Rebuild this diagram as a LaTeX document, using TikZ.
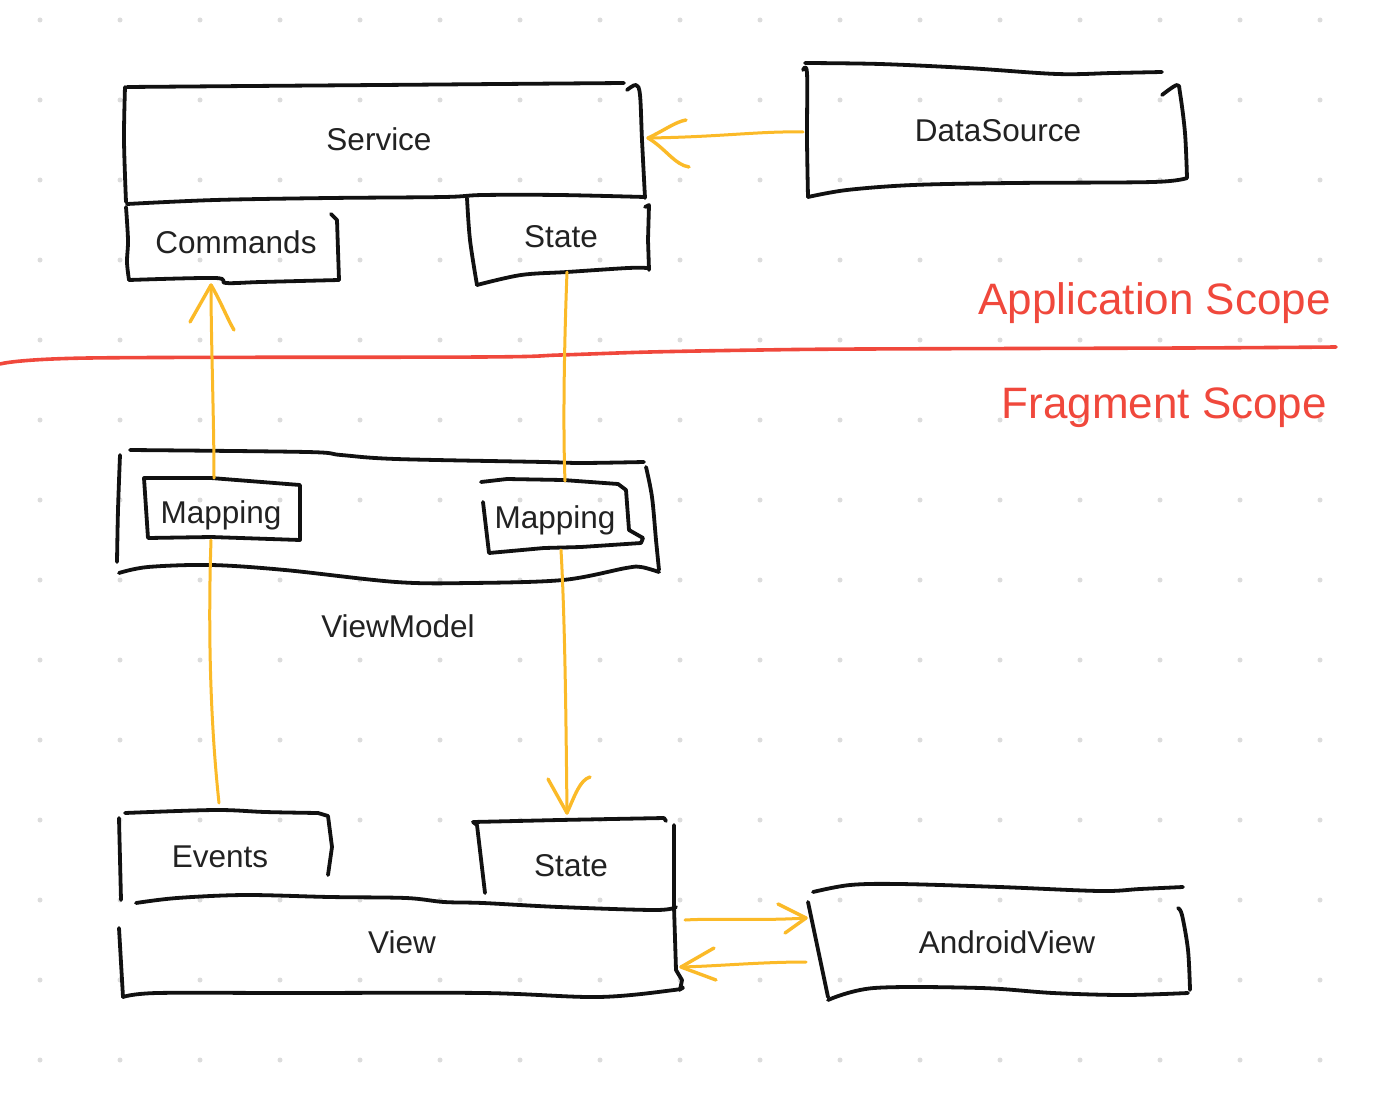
\documentclass[tikz,border=0pt]{standalone}
\usepackage{fontspec}
\setmainfont{Liberation Sans}
\definecolor{inkc}{HTML}{111111}
\definecolor{arrowc}{HTML}{FBBA28}
\definecolor{redc}{HTML}{F0483C}
\definecolor{dotc}{HTML}{DCDCDC}
\definecolor{textc}{HTML}{222222}
\tikzset{
 ink/.style={draw=inkc, line width=3.8pt, line cap=round, line join=round},
 flow/.style={draw=arrowc, line width=3pt, line cap=round, line join=round},
 barb/.style={draw=arrowc, line width=3.4pt, line cap=round, line join=round},
 redline/.style={draw=redc, line width=3.6pt, line cap=round},
 lbl/.style={font=\fontsize{31.5}{36}\selectfont, text=textc, inner sep=0pt, anchor=base},
 scopelbl/.style={font=\fontsize{44}{50}\selectfont, text=redc, inner sep=0pt, anchor=base east},
 sk/.style={smooth, tension=0.55}
}
\begin{document}
\begin{tikzpicture}[x=1pt,y=-1pt]
\fill[white] (0,0) rectangle (1396,1118);
\useasboundingbox (0,0) rectangle (1396,1118);
% dot grid
\foreach \i in {0,...,16} {
  \foreach \j in {0,...,13} {
    \fill[dotc] ({40+80*\i},{20+80*\j}) circle (2.5);
  }
}
% ---------- labels ----------
\node[lbl] (service) at (379,151) {Service};
\node[lbl] (commands) at (236,253) {Commands};
\node[lbl] (appstate) at (561,247) {State};
\node[lbl] (datasource) at (998,142) {DataSource};
\node[scopelbl] (appscope) at (1331,314) {Application Scope};
\node[scopelbl] (fragscope) at (1327,418) {Fragment Scope};
\node[lbl] (mapL) at (221,523) {Mapping};
\node[lbl] (mapR) at (555,528) {Mapping};
\node[lbl] (viewmodel) at (398,637) {ViewModel};
\node[lbl] (events) at (220,867) {Events};
\node[lbl] (viewstate) at (571,876) {State};
\node[lbl] (view) at (402,953) {View};
\node[lbl] (android) at (1007,953) {AndroidView};
% ---------- Service ----------
\draw[ink] plot[sk] coordinates {(127,87) (250,86) (380,85) (500,84) (624,83)};
\draw[ink] plot[sk] coordinates {(627,90) (636,85) (640,95) (642,140) (645,198)};
\draw[ink] plot[sk] coordinates {(125,87) (124,140) (126,202)};
\draw[ink] plot[sk] coordinates {(127,204) (215,200) (330,198) (444,197) (483,195) (559,195) (645,197)};
% Commands
\draw[ink] plot[sk] coordinates {(126,207) (128,240) (127,262) (129,280)};
\draw[ink] plot[sk] coordinates {(129,280) (215,278) (226,283) (261,282) (339,280)};
\draw[ink] (331,214) -- (337,220) -- (338,250) -- (339,280);
% State (application)
\draw[ink] plot[sk] coordinates {(467,198) (470,240) (477,285)};
\draw[ink] plot[sk] coordinates {(477,285) (521,275) (567,272) (628,268) (647,268)};
\draw[ink] (645,207) -- (649,205) -- (648,240) -- (649,270);
% DataSource
\draw[ink] plot[sk] coordinates {(805,63) (880,64) (967,68) (1057,74) (1113,73) (1162,72)};
\draw[ink] plot[sk] coordinates {(1162,95) (1177,85) (1180,93) (1185,133) (1187,178)};
\draw[ink] plot[sk] coordinates {(1187,178) (1153,182) (1013,183) (913,185) (847,190) (808,197)};
\draw[ink] plot[sk] coordinates {(803,70) (807,73) (807,140) (808,197)};
% scope separator
\draw[redline] plot[sk] coordinates {(0,364) (89,358) (480,357) (560,355) (650,352) (760,350) (864,349) (1184,348) (1336,347)};
% ViewModel
\draw[ink] plot[sk] coordinates {(130,450) (307,452) (341,455) (396,459) (544,462) (581,463) (644,462)};
\draw[ink] plot[sk] coordinates {(120,455) (118,510) (117,562)};
\draw[ink] plot[sk] coordinates {(646,467) (652,497) (656,540) (659,570)};
\draw[ink] plot[sk] coordinates {(119,573) (148,567) (211,565) (285,570) (396,582) (470,583) (563,580) (626,568) (641,567) (659,572)};
% Mapping left
\draw[ink] (144,478) -- (211,478) -- (300,485) -- (300,540) -- (211,537) -- (148,538) -- cycle;
% Mapping right
\draw[ink] (481,482) -- (507,479) -- (563,480) -- (618,484) -- (626,490) -- (629,530) -- (643,538) -- (641,543) -- (581,547) -- (544,548) -- (489,553) -- (483,502);
% Events
\draw[ink] (119,818) -- (121,900);
\draw[ink] plot[sk] coordinates {(125,813) (215,810) (265,812) (318,813)} -- (328,816) -- (332,847) -- (328,875);
% State (view)
\draw[ink] (485,893) -- (477,825) -- (473,822) -- (559,820) -- (664,818) -- (666,821);
\draw[ink] (674,825) -- (674,907) -- (676,970) -- (682,980) -- (680,990);
% View
\draw[ink] plot[sk] coordinates {(136,903) (177,898) (245,895) (330,897) (406,898) (444,902) (483,903) (559,907) (655,910) (676,907)};
\draw[ink] (119,928) -- (123,997);
\draw[ink] plot[sk] coordinates {(123,997) (157,993) (291,993) (483,993) (598,997) (674,990) (682,987)};
% AndroidView
\draw[ink] plot[sk] coordinates {(813,892) (850,885) (900,884) (1000,887) (1100,891) (1140,889) (1183,887)};
\draw[ink] (808,902) -- (828,997);
\draw[ink] plot[sk] coordinates {(828,1000) (874,988) (981,988) (1053,993) (1124,995) (1188,993)};
\draw[ink] plot[sk] coordinates {(1178,908) (1182,915) (1188,950) (1190,990)};
% ---------- connectors ----------
\coordinate (dsIn) at (803,132);
\coordinate (svIn) at (648,138);
\draw[flow] (dsIn) .. controls (760,131) and (720,137) .. (svIn);
\draw[barb] (svIn) .. controls (665,130) and (675,122) .. (686,120);
\draw[barb] (svIn) .. controls (665,148) and (675,165) .. (689,167);
% Events -> left Mapping -> Commands
\coordinate (evOut) at (219,803);
\coordinate (mapLbot) at (211,540);
\coordinate (mapLtop) at (214,478);
\coordinate (cmIn) at (211,285);
\draw[flow] (evOut) .. controls (208,700) and (209,600) .. (mapLbot);
\draw[flow] (mapLtop) .. controls (214,420) and (211,340) .. (cmIn);
\draw[barb] (cmIn) -- (190,322);
\draw[barb] (cmIn) .. controls (220,300) and (228,320) .. (234,330);
% State -> right Mapping -> State
\coordinate (asOut) at (567,272);
\coordinate (mapRtop) at (565,481);
\coordinate (mapRbot) at (561,550);
\coordinate (vsIn) at (567,813);
\draw[flow] (asOut) .. controls (564,350) and (563,430) .. (mapRtop);
\draw[flow] (mapRbot) .. controls (565,620) and (566,720) .. (vsIn);
\draw[barb] (vsIn) -- (548,779);
\draw[barb] (vsIn) .. controls (575,795) and (580,780) .. (590,777);
% View <-> AndroidView
\coordinate (vOut) at (685,920);
\coordinate (avIn) at (806,918);
\draw[flow] (vOut) .. controls (720,918) and (760,921) .. (avIn);
\draw[barb] (avIn) -- (778,904);
\draw[barb] (avIn) -- (785,933);
\coordinate (avOut) at (806,962);
\coordinate (vIn) at (681,967);
\draw[flow] (avOut) .. controls (760,962) and (720,966) .. (vIn);
\draw[barb] (vIn) -- (714,948);
\draw[barb] (vIn) -- (716,980);
\end{tikzpicture}
\end{document}
